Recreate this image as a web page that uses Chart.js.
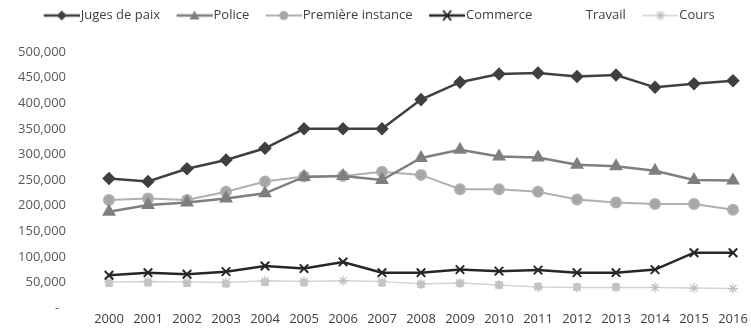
<!DOCTYPE html>
<html>
<head>
<meta charset="utf-8">
<script src="https://cdn.jsdelivr.net/npm/chart.js@4/dist/chart.umd.min.js"></script>
<style>
  html, body { margin: 0; padding: 0; background: #fff; }
</style>
</head>
<body>
<canvas id="lineChart" width="751" height="332"></canvas>
<script>
const years = ['2000', '2001', '2002', '2003', '2004', '2005', '2006', '2007', '2008', '2009', '2010', '2011', '2012', '2013', '2014', '2015', '2016']
const jugesDePaix = [253000, 247000, 272000, 289000, 312000, 350000, 350000, 350000, 407000, 441000, 457000, 459000, 452000, 455000, 431000, 438000, 444000]
const police = [188000, 201000, 206000, 214000, 224000, 256000, 258000, 250000, 293000, 309000, 296000, 294000, 280000, 277000, 268000, 250000, 249000]
const premiereInstance = [211000, 214000, 211000, 227000, 247000, 257000, 258000, 266000, 260000, 232000, 232000, 227000, 212000, 206000, 203000, 203000, 192000]
const commerce = [64000, 69000, 66000, 71000, 82000, 77000, 90000, 69000, 69000, 75000, 72000, 74000, 69000, 69000, 75000, 108000, 108000]
const travail = [48000, 49000, 48000, 47000, 50000, 49000, null, 49000, 46000, 48000, 45000, 42000, 41000, 41000, null, null, null]
const cours = [51000, 52000, 51000, 50000, 53000, 52000, 53000, 52000, 47000, 49000, 45000, 41000, 40000, 40000, 40000, 39000, 38000]
const yTicks = [0, 50000, 100000, 150000, 200000, 250000, 300000, 350000, 400000, 450000, 500000]

const font = "'Open Sans', sans-serif"

// little legend pictures: a short line with the marker in the middle
function legendIcon(color, width, drawMarker) {
    const c = document.createElement('canvas')
    c.width = 49
    c.height = 14
    const g = c.getContext('2d')
    if (color) {
        g.strokeStyle = color
        g.lineWidth = width
        g.beginPath()
        g.moveTo(13, 7)
        g.lineTo(49, 7)
        g.stroke()
    }
    if (drawMarker) drawMarker(g, 31, 7)
    return c
}

const icons = [
    legendIcon('#404040', 2.5, (g, x, y) => {
        g.fillStyle = '#404040'
        g.beginPath(); g.moveTo(x, y - 5); g.lineTo(x + 5, y); g.lineTo(x, y + 5); g.lineTo(x - 5, y); g.closePath(); g.fill()
    }),
    legendIcon('#7f7f7f', 2.5, (g, x, y) => {
        g.fillStyle = '#7f7f7f'
        g.beginPath(); g.moveTo(x, y - 5); g.lineTo(x + 5, y + 4); g.lineTo(x - 5, y + 4); g.closePath(); g.fill()
    }),
    legendIcon('#b0b0b0', 2, (g, x, y) => {
        g.fillStyle = '#a6a6a6'
        g.beginPath(); g.arc(x, y, 4.5, 0, Math.PI * 2); g.fill()
    }),
    legendIcon('#262626', 2.5, (g, x, y) => {
        g.strokeStyle = '#262626'; g.lineWidth = 2
        g.beginPath(); g.moveTo(x - 4, y - 5); g.lineTo(x + 4, y + 5); g.moveTo(x + 4, y - 5); g.lineTo(x - 4, y + 5); g.stroke()
    }),
    legendIcon(null, 0, null),
    legendIcon('#d0d0d0', 1.5, (g, x, y) => {
        g.strokeStyle = '#bdbdbd'; g.lineWidth = 1.2
        g.beginPath()
        for (let a = 0; a < 4; a++) {
            const r = a * Math.PI / 4
            g.moveTo(x - 5 * Math.cos(r), y - 5 * Math.sin(r)); g.lineTo(x + 5 * Math.cos(r), y + 5 * Math.sin(r))
        }
        g.stroke()
    })
]

// keep the legend row near the top but push the plot down
const legendSpace = {
    id: 'legendSpace',
    afterInit(chart) {
        const lg = chart.legend
        const fit = lg.fit.bind(lg)
        lg.fit = function () { fit(); this.height = 52 }
    }
}

const ctx = document.getElementById('lineChart')
const myChart = new Chart(ctx, {
    type: 'line',
    data: {
        labels: years,
        datasets: [{
            label: 'Juges de paix',
            data: jugesDePaix,
            borderColor: '#404040',
            backgroundColor: '#404040',
            borderWidth: 2.5,
            pointStyle: 'rectRot',
            pointRadius: 5
        }, {
            label: 'Police',
            data: police,
            borderColor: '#7f7f7f',
            backgroundColor: '#7f7f7f',
            borderWidth: 2.5,
            pointStyle: 'triangle',
            pointRadius: 5.5
        }, {
            label: 'Première instance',
            data: premiereInstance,
            borderColor: '#b0b0b0',
            backgroundColor: '#a6a6a6',
            borderWidth: 2,
            pointStyle: 'circle',
            pointRadius: 5
        }, {
            label: 'Commerce',
            data: commerce,
            borderColor: '#262626',
            backgroundColor: '#262626',
            borderWidth: 2.5,
            pointStyle: 'crossRot',
            pointRadius: 6,
            pointBorderWidth: 2
        }, {
            label: 'Travail',
            data: travail,
            showLine: false,
            borderColor: '#c4c4c4',
            backgroundColor: '#c4c4c4',
            pointStyle: 'rect',
            pointRadius: 4.5
        }, {
            label: 'Cours',
            data: cours,
            borderColor: '#d4d4d4',
            backgroundColor: '#bdbdbd',
            borderWidth: 1.5,
            pointStyle: 'star',
            pointRadius: 5,
            pointBorderColor: '#bdbdbd',
            pointBorderWidth: 1.2
        }]
    },
    options: {
        responsive: false,
        animation: false,
        layout: {
            padding: { left: 18, right: 18, top: 0, bottom: 5 }
        },
        scales: {
            y: {
                min: 0,
                max: 500000,
                afterBuildTicks: (axis) => { axis.ticks = yTicks.map(v => ({ value: v })) },
                afterFit: (axis) => {
                    axis.width = 91
                    axis.paddingTop = 0
                    axis.paddingBottom = 0
                },
                grid: { display: false, drawTicks: false },
                border: { display: false },
                ticks: {
                    padding: 43,
                    color: '#595959',
                    font: { family: font, size: 13 },
                    callback: (v) => v === 0 ? '-  ' : v.toLocaleString('en-US')
                }
            },
            x: {
                afterFit: (axis) => { axis.height = 19 },
                grid: { display: false, drawTicks: false },
                border: { display: false },
                ticks: {
                    padding: 3,
                    autoSkip: false,
                    maxRotation: 0,
                    color: '#404040',
                    font: { family: font, size: 13 }
                }
            }
        },
        plugins: {
            legend: {
                position: 'top',
                labels: {
                    usePointStyle: true,
                    pointStyleWidth: 38,
                    padding: 9,
                    color: '#404040',
                    font: { family: font, size: 13 },
                    generateLabels: (chart) => {
                        const items = Chart.defaults.plugins.legend.labels.generateLabels(chart)
                        items.forEach((it, i) => { it.pointStyle = icons[i]; it.rotation = 0 })
                        return items
                    }
                },
                onClick: null
            },
            tooltip: { enabled: false }
        }
    },
    plugins: [legendSpace]
})
</script>
</body>
</html>
